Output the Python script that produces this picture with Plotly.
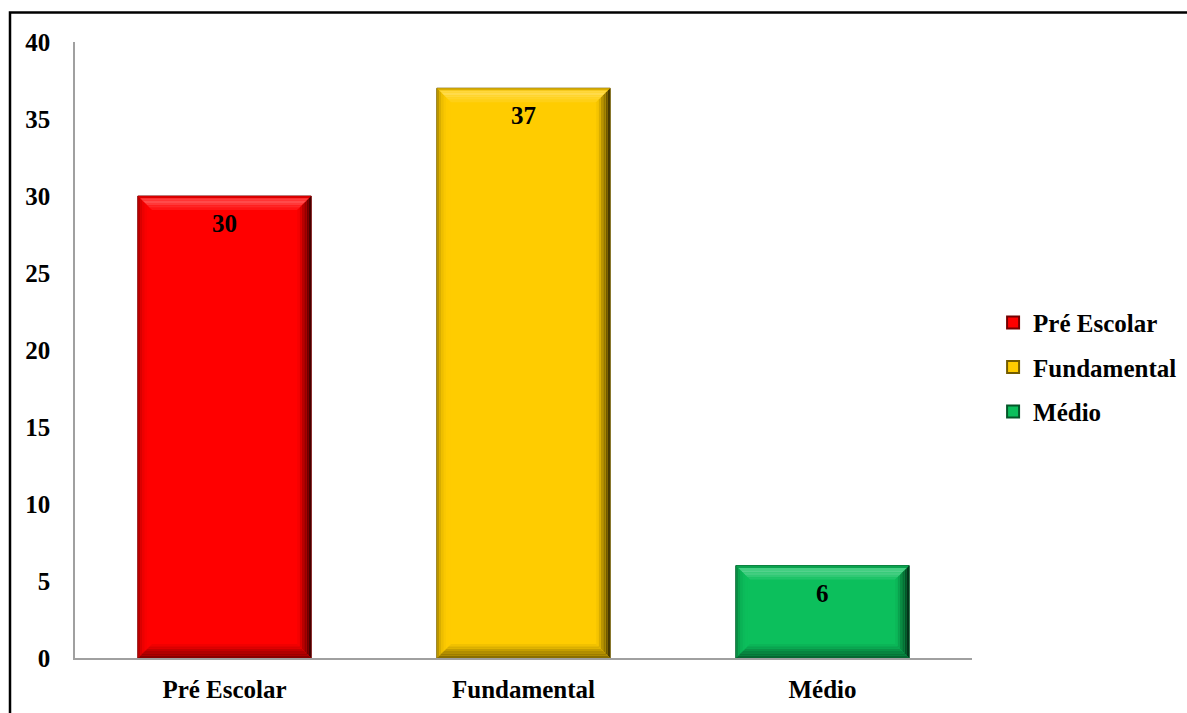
import plotly.graph_objects as go

# Number of students by school level
categories = ["Pré Escolar", "Fundamental", "Médio"]
values = [30, 37, 6]
colors = ["#FF0000", "#FFCC00", "#0CBF5C"]

W, H = 1187, 713
M_L, M_R, M_T, M_B = 75, 215, 42, 55
Y_MAX = 40
BAR_FRAC = 0.58

plot_w = W - M_L - M_R
plot_h = H - M_T - M_B
px_per_cat = plot_w / len(categories)
px_per_unit = plot_h / Y_MAX


def hex_rgb(c):
    c = c.lstrip("#")
    return tuple(int(c[i:i + 2], 16) for i in (0, 2, 4))


def mix(c, other, t):
    a, b = hex_rgb(c), hex_rgb(other)
    r = [round(a[i] + (b[i] - a[i]) * t) for i in range(3)]
    return "rgb({},{},{})".format(*r)


fig = go.Figure()
font_main = dict(family="Liberation Serif", size=25, color="black", weight="bold")

for i, (cat, v, c) in enumerate(zip(categories, values, colors)):
    fig.add_trace(go.Bar(
        x=[cat], y=[v], name=cat, legendgroup=cat,
        marker=dict(color=c, line=dict(color=mix(c, "#000000", 0.55), width=1)),
        width=BAR_FRAC, hoverinfo="x+y",
    ))

# Bevel faces drawn as banded trapezoids on each bar
shapes = []
bevel_px = 14
bands = 6
bx = bevel_px / px_per_cat
by = bevel_px / px_per_unit
for i, (v, c) in enumerate(zip(values, colors)):
    x0, x1 = i - BAR_FRAC / 2, i + BAR_FRAC / 2
    for k in range(bands):
        d0, d1 = k / bands, (k + 1) / bands
        t_out = 1 - (k + 0.5) / bands  # 1 at outer edge, 0 at inner
        # per-side colours
        if k == 0:
            top_c = mix(c, "#000000", 0.15)
        else:
            top_c = mix(c, "#FFFFFF", 0.3 * (1 - abs(t_out - 0.6) * 1.4))
        right_c = mix(c, "#000000", 0.8 * t_out ** 1.2)
        bottom_c = mix(c, "#000000", 0.5 * t_out ** 0.9)
        left_c = mix(c, "#000000", 0.35 * t_out ** 3)
        sides = {
            "top": ([(x0 + bx * d0, v - by * d0), (x1 - bx * d0, v - by * d0),
                     (x1 - bx * d1, v - by * d1), (x0 + bx * d1, v - by * d1)], top_c),
            "right": ([(x1 - bx * d0, v - by * d0), (x1 - bx * d0, by * d0),
                       (x1 - bx * d1, by * d1), (x1 - bx * d1, v - by * d1)], right_c),
            "bottom": ([(x0 + bx * d0, by * d0), (x1 - bx * d0, by * d0),
                        (x1 - bx * d1, by * d1), (x0 + bx * d1, by * d1)], bottom_c),
            "left": ([(x0 + bx * d0, by * d0), (x0 + bx * d0, v - by * d0),
                      (x0 + bx * d1, v - by * d1), (x0 + bx * d1, by * d1)], left_c),
        }
        for pts, col in sides.values():
            path = "M" + " L".join(f"{px:.5f},{py:.5f}" for px, py in pts) + " Z"
            shapes.append(dict(type="path", xref="x", yref="y", path=path,
                               fillcolor=col, line=dict(width=0), layer="above"))

# Outer chart frame (extends past the right and bottom edges)
shapes.append(dict(type="rect", xref="paper", yref="paper",
                   x0=(10 - M_L) / plot_w, x1=1.4,
                   y0=-0.3, y1=(plot_h + M_T - 12.5) / plot_h,
                   line=dict(color="black", width=2.5), fillcolor="rgba(0,0,0,0)",
                   layer="below"))

# Value labels inside the top of each bar
annotations = [
    dict(x=cat, y=v, text=str(v), showarrow=False, yanchor="top", yshift=-12,
         font=font_main)
    for cat, v in zip(categories, values)
]

fig.update_layout(
    width=W, height=H, autosize=False,
    margin=dict(l=M_L, r=M_R, t=M_T, b=M_B, autoexpand=False),
    paper_bgcolor="white", plot_bgcolor="white",
    shapes=shapes, annotations=annotations,
    bargap=1 - BAR_FRAC,
    legend=dict(x=1.0235, y=0.472, xanchor="left", yanchor="middle",
                font=font_main, tracegroupgap=9, itemsizing="constant",
                bgcolor="rgba(0,0,0,0)"),
    xaxis=dict(showline=True, linecolor="#A0A0A0", linewidth=1.5,
               showgrid=False, ticks="", tickfont=font_main,
               ticklabelstandoff=8),
    yaxis=dict(range=[0, Y_MAX], dtick=5, showline=True, linecolor="#A0A0A0",
               linewidth=1.5, showgrid=False, zeroline=False, ticks="",
               tickfont=font_main, ticklabelstandoff=18),
)

fig.write_html("out.html")
